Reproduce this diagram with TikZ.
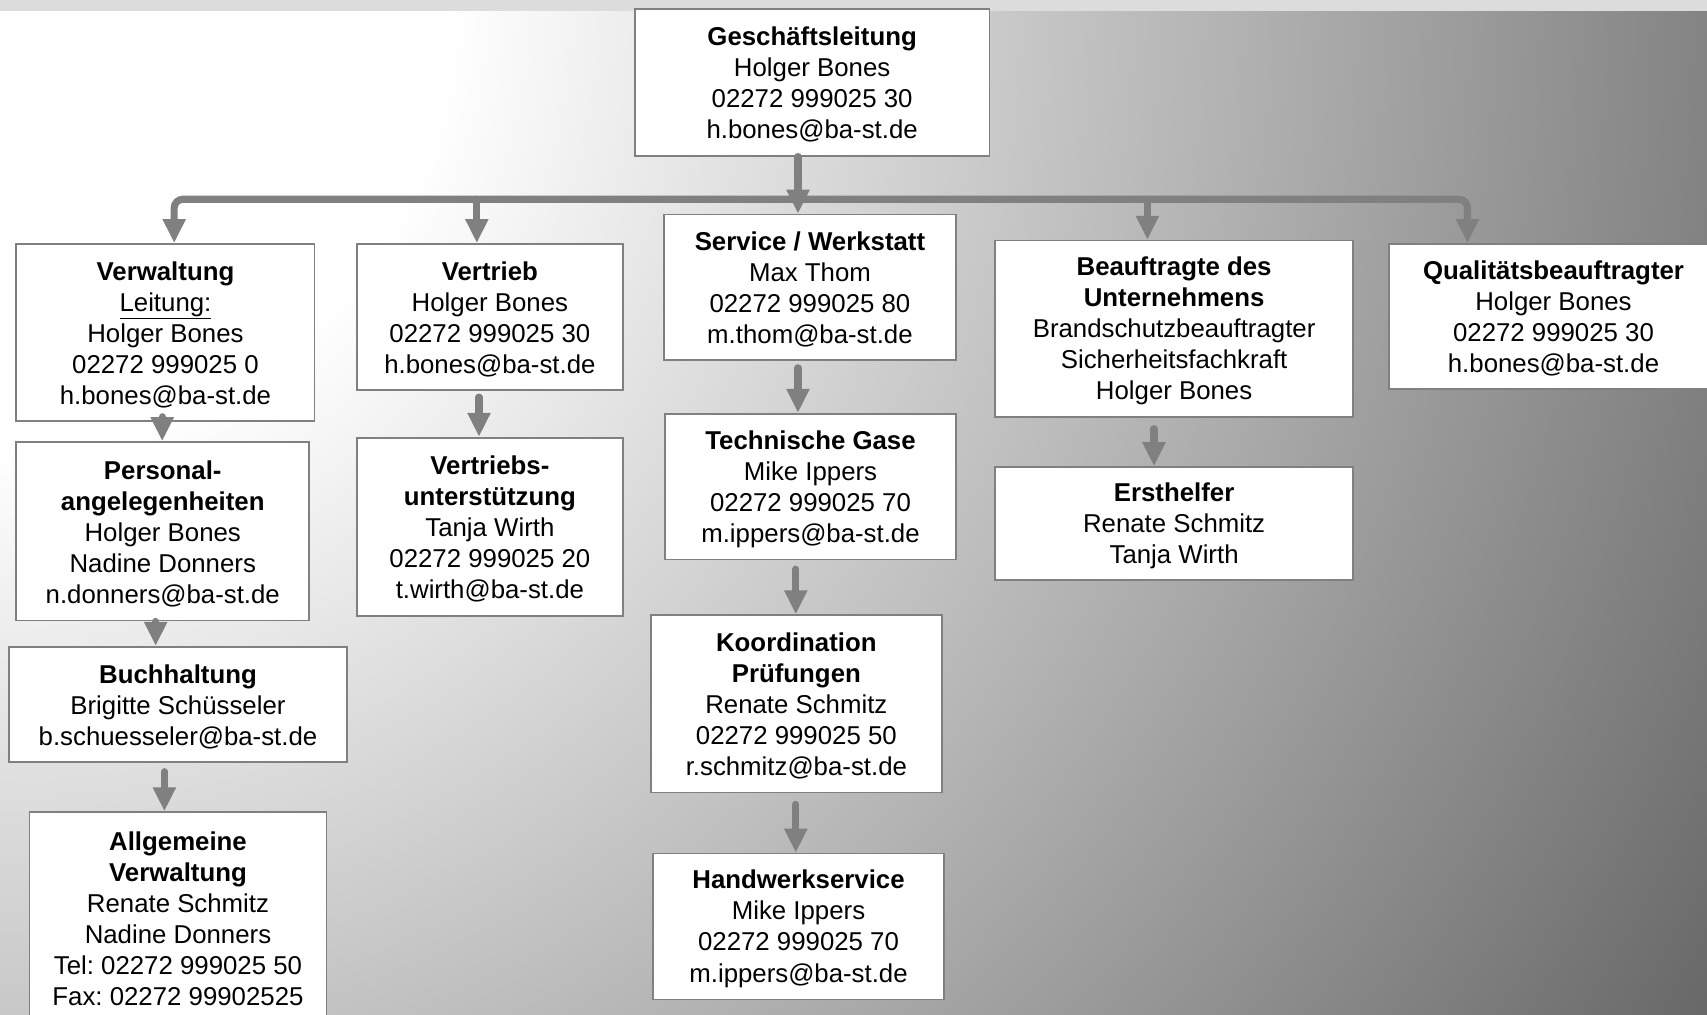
\documentclass[tikz,border=0pt]{standalone}
\usepackage{fontspec}
\setmainfont{Liberation Sans}
\usetikzlibrary{arrows.meta}
\definecolor{linegray}{RGB}{128,128,128}
\definecolor{bgdark}{RGB}{104,104,104}
\definecolor{topbar}{RGB}{220,220,220}
\pgfdeclareradialshading{bgfade}{\pgfpoint{0bp}{0bp}}{color(0bp)=(white); color(5.66bp)=(white); color(25bp)=(bgdark); color(50bp)=(bgdark)}
\newcommand{\boxhead}[1]{\rule{0pt}{21.5pt}\textbf{#1}}

\begin{document}
\begin{tikzpicture}[x=1pt,y=-1pt,
    box/.style={draw=linegray,line width=1.6pt,fill=white,inner sep=0pt,align=center,font=\fontsize{23.7}{28.5}\selectfont\frenchspacing},
    arr/.style={draw=linegray,line width=6.5pt,line cap=round,-{Triangle[length=22pt,width=20pt]}},
    arrboth/.style={arr,{Triangle[length=22pt,width=20pt]}-{Triangle[length=22pt,width=20pt]}}]

    \useasboundingbox (0,0) rectangle (1568,932);
    \begin{scope}
        \clip (0,0) rectangle (1568,932);
        % background
        \shade[shading=bgfade] (0,0) circle [radius=1824pt];
        \fill[topbar] (0,0) rectangle (1568,10);

        \node[box,minimum width=326,minimum height=135] (gl) at (746,75.5) {\boxhead{Geschäftsleitung}\\Holger Bones\\02272 999025 30\\h.bones@ba-st.de};

        \node[box,minimum width=274,minimum height=163] (verw) at (152,305.5) {\boxhead{Verwaltung}\\\underline{Leitung:}\\Holger Bones\\02272 999025 0\\h.bones@ba-st.de};
        \node[box,minimum width=269,minimum height=164] (pers) at (149.5,488) {\boxhead{Personal-}\\\textbf{angelegenheiten}\\Holger Bones\\Nadine Donners\\n.donners@ba-st.de};
        \node[box,minimum width=311,minimum height=106] (buch) at (163.5,647) {\boxhead{Buchhaltung}\\Brigitte Schüsseler\\b.schuesseler@ba-st.de};
        \node[box,minimum width=273,minimum height=192] (allg) at (163.5,842) {\boxhead{Allgemeine}\\\textbf{Verwaltung}\\Renate Schmitz\\Nadine Donners\\Tel: 02272 999025 50\\Fax: 02272 99902525};

        \node[box,minimum width=244,minimum height=134] (vert) at (450,291) {\boxhead{Vertrieb}\\Holger Bones\\02272 999025 30\\h.bones@ba-st.de};
        \node[box,minimum width=244,minimum height=164] (vunt) at (450,484) {\boxhead{Vertriebs-}\\\textbf{unterstützung}\\Tanja Wirth\\02272 999025 20\\t.wirth@ba-st.de};

        \node[box,minimum width=268,minimum height=134] (serv) at (744,264) {\boxhead{Service / Werkstatt}\\Max Thom\\02272 999025 80\\m.thom@ba-st.de};
        \node[box,minimum width=267,minimum height=134] (tech) at (744.5,447) {\boxhead{Technische Gase}\\Mike Ippers\\02272 999025 70\\m.ippers@ba-st.de};
        \node[box,minimum width=267,minimum height=163] (koord) at (731.5,646.5) {\boxhead{Koordination}\\\textbf{Prüfungen}\\Renate Schmitz\\02272 999025 50\\r.schmitz@ba-st.de};
        \node[box,minimum width=267,minimum height=134] (hand) at (733.5,851) {\boxhead{Handwerkservice}\\Mike Ippers\\02272 999025 70\\m.ippers@ba-st.de};

        \node[box,minimum width=329,minimum height=162] (beau) at (1078.5,302) {\boxhead{Beauftragte des}\\\textbf{Unternehmens}\\Brandschutzbeauftragter\\Sicherheitsfachkraft\\Holger Bones};
        \node[box,minimum width=329,minimum height=104] (erst) at (1078.5,481) {\boxhead{Ersthelfer}\\Renate Schmitz\\Tanja Wirth};

        \node[box,minimum width=302,minimum height=133] (qual) at (1427,290.5) {\boxhead{Qualitätsbeauftragter}\\Holger Bones\\02272 999025 30\\h.bones@ba-st.de};

        % connectors
        \coordinate (busl) at (160,183);
        \coordinate (busr) at (1348,183);
        \coordinate (busv) at (438,183);
        \coordinate (busb) at (1054,183);
        \draw[arr] (gl.south -| 733,0) -- (serv.north -| 733,0);
        \draw[arrboth,rounded corners=8pt] (verw.north -| busl) -- (busl) -- (busr) -- (qual.north -| busr);
        \draw[arr] (busv) -- (vert.north -| busv);
        \draw[arr] (busb) -- (beau.north -| busb);

        \draw[arr,shorten <=5pt] (verw.south -| 149,0) -- (pers.north -| 149,0);
        \draw[arr] (pers.south -| 143,0) -- (buch.north -| 143,0);
        \draw[arr,shorten <=8pt] (buch.south -| 151,0) -- (allg.north -| 151,0);
        \draw[arr,shorten <=6pt] (vert.south -| 440,0) -- (vunt.north -| 440,0);
        \draw[arr,shorten <=6pt] (serv.south -| 733,0) -- (tech.north -| 733,0);
        \draw[arr,shorten <=8pt] (tech.south -| 731,0) -- (koord.north -| 731,0);
        \draw[arr,shorten <=10pt] (koord.south -| 731,0) -- (hand.north -| 731,0);
        \draw[arr,shorten <=10pt] (beau.south -| 1060,0) -- (erst.north -| 1060,0);
    \end{scope}
\end{tikzpicture}
\end{document}
